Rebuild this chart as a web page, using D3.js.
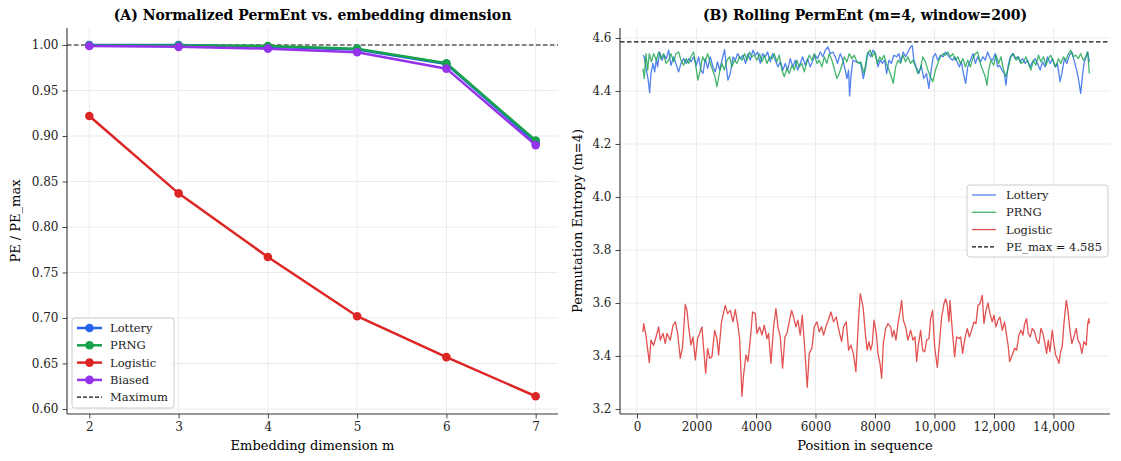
<!DOCTYPE html>
<html>
<head>
<meta charset="utf-8">
<script src="https://cdn.jsdelivr.net/npm/d3@7"></script>
<style>
  body { margin: 0; background: #fff; }
  svg { font-family: "DejaVu Serif", serif; }
</style>
</head>
<body>
<div id="chart"></div>
<script>
// ---- panel A data ----
const dims = [2, 3, 4, 5, 6, 7];
const peLottery  = [1.000, 1.000, 0.998, 0.995, 0.979, 0.893];
const pePRNG     = [0.9995, 0.9995, 0.999, 0.996, 0.980, 0.895];
const peLogistic = [0.922, 0.837, 0.767, 0.702, 0.657, 0.614];
const peBiased   = [0.999, 0.998, 0.996, 0.992, 0.974, 0.890];
const dimTicks = [2, 3, 4, 5, 6, 7];
const normTicks = [0.60, 0.65, 0.70, 0.75, 0.80, 0.85, 0.90, 0.95, 1.00];

// ---- panel B data: [position, rolling PE] ----
const rollLottery = [[200,4.535],[244,4.529],[314,4.479],[370,4.447],[426,4.394],[470,4.466],[538,4.504],[594,4.472],[650,4.522],[694,4.491],[762,4.547],[840,4.516],[918,4.535],[986,4.522],[1064,4.554],[1142,4.497],[1232,4.529],[1310,4.504],[1400,4.472],[1478,4.504],[1568,4.522],[1658,4.504],[1736,4.522],[1814,4.51],[1904,4.529],[1994,4.497],[2072,4.529],[2150,4.479],[2218,4.466],[2296,4.522],[2374,4.485],[2464,4.529],[2554,4.491],[2632,4.472],[2710,4.51],[2778,4.479],[2856,4.516],[2946,4.556],[3002,4.491],[3058,4.441],[3136,4.466],[3226,4.529],[3304,4.516],[3382,4.541],[3472,4.522],[3562,4.535],[3651,4.504],[3730,4.541],[3808,4.516],[3898,4.554],[3976,4.535],[4054,4.547],[4144,4.504],[4222,4.541],[4312,4.529],[4390,4.547],[4480,4.51],[4558,4.541],[4648,4.516],[4738,4.491],[4816,4.51],[4906,4.479],[4984,4.504],[5062,4.479],[5152,4.522],[5242,4.491],[5320,4.516],[5398,4.479],[5488,4.504],[5566,4.529],[5656,4.497],[5734,4.522],[5824,4.491],[5914,4.516],[5992,4.535],[6070,4.522],[6160,4.547],[6250,4.529],[6328,4.554],[6418,4.566],[6496,4.541],[6586,4.547],[6664,4.529],[6742,4.504],[6832,4.541],[6922,4.516],[7000,4.479],[7056,4.447],[7112,4.479],[7146,4.381],[7190,4.454],[7258,4.516],[7380,4.51],[7520,4.504],[7609,4.447],[7687,4.491],[7765,4.547],[7855,4.529],[7933,4.554],[8022,4.541],[8100,4.491],[8168,4.516],[8246,4.504],[8324,4.516],[8391,4.466],[8469,4.516],[8547,4.504],[8636,4.535],[8726,4.529],[8804,4.541],[8860,4.51],[8950,4.547],[9028,4.529],[9106,4.547],[9195,4.566],[9251,4.572],[9307,4.516],[9385,4.491],[9474,4.466],[9553,4.497],[9642,4.447],[9731,4.466],[9810,4.41],[9888,4.479],[9955,4.529],[10033,4.541],[10111,4.516],[10200,4.535],[10290,4.529],[10368,4.547],[10446,4.535],[10536,4.522],[10614,4.516],[10681,4.529],[10759,4.51],[10837,4.491],[10904,4.51],[10983,4.46],[11049,4.429],[11116,4.491],[11206,4.516],[11295,4.541],[11373,4.504],[11451,4.529],[11541,4.51],[11630,4.529],[11708,4.516],[11786,4.547],[11876,4.522],[11954,4.516],[12043,4.541],[12122,4.491],[12189,4.497],[12267,4.479],[12345,4.466],[12401,4.422],[12468,4.491],[12546,4.529],[12624,4.541],[12714,4.522],[12792,4.529],[12881,4.51],[12960,4.522],[13049,4.504],[13127,4.516],[13217,4.491],[13295,4.51],[13384,4.522],[13462,4.504],[13552,4.479],[13630,4.51],[13719,4.491],[13797,4.529],[13887,4.504],[13965,4.522],[14054,4.491],[14132,4.504],[14221,4.435],[14289,4.472],[14367,4.522],[14445,4.504],[14535,4.535],[14613,4.547],[14691,4.516],[14780,4.479],[14836,4.447],[14914,4.391],[14970,4.454],[15026,4.504],[15093,4.529],[15149,4.547],[15205,4.51]];

const rollPRNG = [[200,4.485],[246,4.447],[302,4.541],[358,4.479],[414,4.541],[482,4.51],[560,4.541],[650,4.516],[728,4.547],[806,4.522],[896,4.541],[974,4.504],[1064,4.516],[1142,4.541],[1232,4.51],[1310,4.541],[1400,4.547],[1478,4.516],[1568,4.497],[1646,4.522],[1736,4.504],[1814,4.529],[1904,4.547],[1982,4.491],[2050,4.441],[2128,4.479],[2206,4.529],[2285,4.51],[2374,4.541],[2464,4.504],[2542,4.479],[2621,4.454],[2688,4.416],[2766,4.466],[2856,4.504],[2934,4.479],[3024,4.516],[3114,4.529],[3192,4.491],[3270,4.516],[3360,4.504],[3450,4.529],[3528,4.516],[3618,4.541],[3696,4.516],[3786,4.547],[3864,4.529],[3942,4.535],[4032,4.516],[4122,4.541],[4200,4.51],[4278,4.535],[4368,4.504],[4458,4.529],[4536,4.522],[4614,4.541],[4704,4.51],[4782,4.535],[4872,4.479],[4950,4.454],[5040,4.485],[5118,4.466],[5208,4.497],[5286,4.479],[5376,4.516],[5454,4.491],[5544,4.504],[5622,4.472],[5712,4.51],[5790,4.535],[5880,4.516],[5958,4.541],[6048,4.504],[6126,4.516],[6216,4.491],[6294,4.529],[6384,4.504],[6462,4.541],[6552,4.516],[6630,4.485],[6720,4.447],[6798,4.466],[6888,4.497],[6966,4.529],[7056,4.51],[7134,4.541],[7224,4.522],[7302,4.535],[7392,4.51],[7482,4.504],[7520,4.51],[7632,4.466],[7743,4.541],[7833,4.554],[7911,4.529],[7989,4.547],[8078,4.504],[8156,4.529],[8223,4.516],[8302,4.535],[8380,4.504],[8469,4.479],[8547,4.454],[8614,4.429],[8693,4.491],[8771,4.516],[8860,4.504],[8938,4.535],[9028,4.51],[9106,4.529],[9195,4.504],[9274,4.516],[9363,4.491],[9441,4.466],[9530,4.485],[9609,4.529],[9698,4.51],[9776,4.479],[9865,4.454],[9944,4.435],[10033,4.479],[10111,4.504],[10200,4.529],[10290,4.541],[10368,4.535],[10446,4.547],[10536,4.529],[10614,4.541],[10703,4.516],[10782,4.529],[10871,4.504],[10960,4.522],[11038,4.491],[11116,4.516],[11206,4.491],[11284,4.522],[11373,4.541],[11451,4.547],[11541,4.504],[11619,4.479],[11708,4.454],[11764,4.422],[11820,4.479],[11898,4.516],[11988,4.497],[12066,4.535],[12155,4.504],[12234,4.529],[12323,4.479],[12401,4.454],[12490,4.491],[12569,4.529],[12658,4.541],[12747,4.516],[12826,4.529],[12904,4.504],[12993,4.51],[13071,4.529],[13161,4.504],[13239,4.479],[13328,4.516],[13406,4.497],[13496,4.535],[13574,4.51],[13663,4.529],[13742,4.497],[13831,4.522],[13909,4.535],[13998,4.51],[14077,4.491],[14166,4.522],[14244,4.504],[14333,4.529],[14412,4.516],[14501,4.541],[14579,4.554],[14668,4.529],[14747,4.535],[14836,4.522],[14914,4.541],[15004,4.516],[15082,4.529],[15149,4.547],[15205,4.466]];

const rollLogistic = [[200,3.491],[224,3.522],[300,3.479],[414,3.375],[470,3.46],[560,3.44],[672,3.485],[728,3.51],[784,3.46],[874,3.485],[952,3.447],[1008,3.485],[1120,3.46],[1210,3.516],[1288,3.529],[1366,3.485],[1456,3.391],[1534,3.435],[1624,3.595],[1680,3.572],[1736,3.51],[1814,3.441],[1882,3.472],[1960,3.385],[2038,3.466],[2106,3.485],[2184,3.51],[2240,3.429],[2307,3.335],[2374,3.429],[2442,3.391],[2520,3.397],[2610,3.497],[2688,3.466],[2744,3.404],[2834,3.522],[2890,3.554],[2968,3.591],[3046,3.56],[3136,3.572],[3226,3.529],[3304,3.575],[3382,3.522],[3450,3.466],[3528,3.248],[3584,3.329],[3662,3.404],[3730,3.379],[3808,3.46],[3886,3.566],[3976,3.56],[4032,3.485],[4122,3.51],[4200,3.479],[4278,3.516],[4368,3.466],[4424,3.485],[4502,3.372],[4592,3.51],[4670,3.579],[4738,3.51],[4816,3.472],[4894,3.354],[4973,3.472],[5040,3.485],[5130,3.535],[5197,3.572],[5264,3.547],[5342,3.51],[5410,3.535],[5488,3.479],[5555,3.554],[5634,3.435],[5723,3.282],[5790,3.41],[5880,3.429],[5958,3.51],[6048,3.529],[6126,3.491],[6205,3.51],[6272,3.479],[6350,3.51],[6429,3.535],[6518,3.566],[6608,3.529],[6698,3.547],[6787,3.497],[6877,3.454],[6944,3.51],[7034,3.529],[7112,3.422],[7190,3.441],[7280,3.404],[7358,3.341],[7437,3.522],[7504,3.635],[7600,3.585],[7686,3.472],[7740,3.422],[7798,3.454],[7855,3.422],[7910,3.447],[7966,3.535],[8045,3.485],[8100,3.41],[8168,3.372],[8224,3.316],[8280,3.447],[8358,3.504],[8437,3.522],[8526,3.51],[8582,3.472],[8638,3.497],[8705,3.46],[8773,3.522],[8840,3.566],[8896,3.61],[8952,3.535],[9030,3.51],[9109,3.46],[9198,3.497],[9276,3.46],[9344,3.472],[9400,3.379],[9456,3.441],[9534,3.497],[9602,3.422],[9669,3.416],[9736,3.46],[9814,3.466],[9870,3.541],[9937,3.572],[10005,3.435],[10094,3.357],[10161,3.441],[10240,3.547],[10318,3.597],[10374,3.616],[10430,3.591],[10486,3.529],[10520,3.61],[10598,3.497],[10677,3.397],[10744,3.472],[10822,3.466],[10878,3.472],[10946,3.41],[11013,3.46],[11102,3.504],[11170,3.472],[11248,3.497],[11326,3.529],[11394,3.522],[11461,3.591],[11528,3.597],[11606,3.629],[11662,3.522],[11730,3.572],[11797,3.6],[11864,3.56],[11942,3.529],[11998,3.554],[12066,3.51],[12133,3.535],[12200,3.547],[12278,3.497],[12357,3.529],[12413,3.485],[12480,3.435],[12525,3.379],[12592,3.397],[12693,3.429],[12760,3.422],[12838,3.479],[12906,3.497],[12973,3.479],[13029,3.522],[13096,3.541],[13152,3.485],[13219,3.472],[13286,3.504],[13365,3.491],[13432,3.46],[13510,3.447],[13578,3.504],[13645,3.485],[13712,3.447],[13768,3.41],[13824,3.46],[13880,3.416],[13958,3.497],[14014,3.447],[14070,3.404],[14126,3.391],[14182,3.372],[14238,3.416],[14294,3.435],[14350,3.522],[14429,3.61],[14485,3.572],[14552,3.497],[14619,3.447],[14686,3.472],[14765,3.504],[14821,3.46],[14888,3.447],[14955,3.41],[15022,3.454],[15100,3.441],[15150,3.522],[15190,3.541],[15205,3.522]];

const peMax = 4.585;
const posTicks = [0, 2000, 4000, 6000, 8000, 10000, 12000, 14000];
const entTicks = [3.2, 3.4, 3.6, 3.8, 4.0, 4.2, 4.4, 4.6];

const colors = { Lottery: "#2563eb", PRNG: "#16a34a", Logistic: "#dc2626", Biased: "#9333ea" };

const svg = d3.select("#chart").append("svg")
  .attr("width", 1121)
  .attr("height", 461);

// axes boxes
const A = { left: 67, right: 558, top: 28, bottom: 414 };
const B = { left: 620, right: 1110, top: 28, bottom: 414 };

const xA = d3.scaleLinear().domain([1.75, 7.25]).range([A.left, A.right]);
const yA = d3.scaleLinear().domain([0.5945, 1.0187]).range([A.bottom, A.top]);
const xB = d3.scaleLinear().domain([-571, 15899]).range([B.left, B.right]);
const yB = d3.scaleLinear().domain([3.1811, 4.6377]).range([B.bottom, B.top]);

function grid(box, x, y, xt, yt) {
  const g = svg.append("g");
  g.selectAll(".gx").data(xt).enter().append("line")
    .attr("x1", d => x(d)).attr("x2", d => x(d))
    .attr("y1", box.top).attr("y2", box.bottom)
    .attr("stroke", "#e6e6e6").attr("stroke-width", 0.8);
  g.selectAll(".gy").data(yt).enter().append("line")
    .attr("x1", box.left).attr("x2", box.right)
    .attr("y1", d => y(d)).attr("y2", d => y(d))
    .attr("stroke", "#e6e6e6").attr("stroke-width", 0.8);
}

function axes(box, x, y, xt, yt, xfmt, yfmt) {
  const gx = svg.append("g")
    .attr("transform", `translate(0,${box.bottom})`)
    .call(d3.axisBottom(x).tickValues(xt).tickFormat(xfmt).tickSize(4.5).tickSizeOuter(0).tickPadding(4));
  const gy = svg.append("g")
    .attr("transform", `translate(${box.left},0)`)
    .call(d3.axisLeft(y).tickValues(yt).tickFormat(yfmt).tickSize(4.5).tickSizeOuter(0).tickPadding(4));
  [gx, gy].forEach(g => {
    g.select(".domain").attr("stroke", "#333").attr("stroke-width", 1.1);
    g.selectAll(".tick line").attr("stroke", "#333").attr("stroke-width", 0.9);
    g.selectAll(".tick text").attr("fill", "#222")
      .style("font-family", "DejaVu Serif").style("font-size", "12px");
  });
  // stretch spines to full box
  gx.select(".domain").attr("d", `M${box.left},0H${box.right}`);
  gy.select(".domain").attr("d", `M0,${box.top}V${box.bottom}`);
}

grid(A, xA, yA, dimTicks, normTicks);
grid(B, xB, yB, posTicks, entTicks);

// ---- panel A ----
const seriesA = [
  { name: "Lottery", vals: peLottery },
  { name: "PRNG", vals: pePRNG },
  { name: "Logistic", vals: peLogistic },
  { name: "Biased", vals: peBiased }
];

svg.append("line")
  .attr("x1", A.left).attr("x2", A.right)
  .attr("y1", yA(1.0)).attr("y2", yA(1.0))
  .attr("stroke", "#111").attr("stroke-width", 1.2)
  .attr("stroke-dasharray", "4.5,2.5");

const lineA = d3.line().x((d, i) => xA(dims[i])).y(d => yA(d));
seriesA.forEach(s => {
  svg.append("path")
    .attr("d", lineA(s.vals))
    .attr("fill", "none")
    .attr("stroke", colors[s.name])
    .attr("stroke-width", 2.5);
  svg.append("g").selectAll("circle")
    .data(s.vals).enter().append("circle")
    .attr("cx", (d, i) => xA(dims[i]))
    .attr("cy", d => yA(d))
    .attr("r", 4.3)
    .attr("fill", colors[s.name]);
});

axes(A, xA, yA, dimTicks, normTicks, d => d, d3.format(".2f"));

// ---- panel B ----
svg.append("line")
  .attr("x1", B.left).attr("x2", B.right)
  .attr("y1", yB(peMax)).attr("y2", yB(peMax))
  .attr("stroke", "#111").attr("stroke-width", 1.2)
  .attr("stroke-dasharray", "4.5,2.5");

const lineB = d3.line().x(d => xB(d[0])).y(d => yB(d[1]));
[["Lottery", rollLottery], ["PRNG", rollPRNG], ["Logistic", rollLogistic]].forEach(([name, data]) => {
  svg.append("path")
    .datum(data)
    .attr("d", lineB)
    .attr("fill", "none")
    .attr("stroke", colors[name])
    .attr("stroke-opacity", 0.8)
    .attr("stroke-width", 1.3)
    .attr("stroke-linejoin", "round");
});

axes(B, xB, yB, posTicks, entTicks,
  d => d >= 10000 ? d3.format(",")(d) : d,
  d3.format(".1f"));

// titles
svg.append("text")
  .attr("x", (A.left + A.right) / 2).attr("y", 20)
  .attr("text-anchor", "middle")
  .style("font-weight", "bold").style("font-size", "14px")
  .text("(A) Normalized PermEnt vs. embedding dimension");
svg.append("text")
  .attr("x", (B.left + B.right) / 2).attr("y", 20)
  .attr("text-anchor", "middle")
  .style("font-weight", "bold").style("font-size", "14px")
  .text("(B) Rolling PermEnt (m=4, window=200)");

// axis labels
svg.append("text")
  .attr("x", (A.left + A.right) / 2).attr("y", 450)
  .attr("text-anchor", "middle").style("font-size", "13px")
  .text("Embedding dimension m");
svg.append("text")
  .attr("x", (B.left + B.right) / 2).attr("y", 450)
  .attr("text-anchor", "middle").style("font-size", "13px")
  .text("Position in sequence");
svg.append("text")
  .attr("transform", `translate(20,${(A.top + A.bottom) / 2}) rotate(-90)`)
  .attr("text-anchor", "middle").style("font-size", "13px")
  .text("PE / PE_max");
svg.append("text")
  .attr("transform", `translate(582,${(B.top + B.bottom) / 2}) rotate(-90)`)
  .attr("text-anchor", "middle").style("font-size", "13px")
  .text("Permutation Entropy (m=4)");

// legends
function legend(x0, y0, w, h, items, rowH, markers) {
  const g = svg.append("g").attr("transform", `translate(${x0},${y0})`);
  g.append("rect")
    .attr("width", w).attr("height", h).attr("rx", 3)
    .attr("fill", "#fff").attr("fill-opacity", 0.85)
    .attr("stroke", "#ccc").attr("stroke-width", 1);
  items.forEach((it, i) => {
    const cy = 10 + i * rowH;
    const row = g.append("g");
    row.append("line")
      .attr("x1", 5).attr("x2", markers ? 30 : 29)
      .attr("y1", cy).attr("y2", cy)
      .attr("stroke", it.color)
      .attr("stroke-width", it.dash ? 1.2 : (markers ? 2.5 : 1.3))
      .attr("stroke-opacity", it.dash || markers ? 1 : 0.8)
      .attr("stroke-dasharray", it.dash ? "4,2" : null);
    if (markers && !it.dash) {
      row.append("circle").attr("cx", 17.5).attr("cy", cy).attr("r", 4.3).attr("fill", it.color);
    }
    row.append("text")
      .attr("x", markers ? 38 : 39).attr("y", cy + 4)
      .style("font-size", "11.5px").attr("fill", "#222")
      .text(it.label);
  });
}

legend(72, 318, 102, 90, [
  { label: "Lottery", color: colors.Lottery },
  { label: "PRNG", color: colors.PRNG },
  { label: "Logistic", color: colors.Logistic },
  { label: "Biased", color: colors.Biased },
  { label: "Maximum", color: "#111", dash: true }
], 17.3, true);

legend(967, 185, 141, 72, [
  { label: "Lottery", color: colors.Lottery },
  { label: "PRNG", color: colors.PRNG },
  { label: "Logistic", color: colors.Logistic },
  { label: "PE_max = 4.585", color: "#111", dash: true }
], 17.3, false);
</script>
</body>
</html>
